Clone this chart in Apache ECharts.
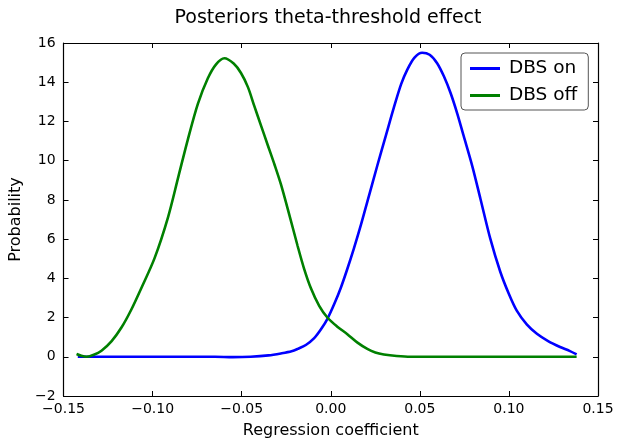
<!DOCTYPE html>
<html>
<head>
<meta charset="utf-8">
<script src="https://cdn.jsdelivr.net/npm/echarts@6/dist/echarts.min.js"></script>
<style>html,body{margin:0;padding:0;background:#fff}#c{width:617px;height:444px}</style>
</head>
<body>
<div id="c"></div>
<script>
const titleText = "Posteriors theta-threshold effect";
const xLabel = "Regression coefficient";
const yLabel = "Probability";
const seriesNames = ["DBS on", "DBS off"];

const dbsOnX = [-0.142, -0.12, -0.10, -0.08, -0.065, -0.055, -0.045, -0.035, -0.028, -0.022, -0.0186, -0.014, -0.0093, -0.0055, -0.0018, 0.002, 0.0056, 0.009, 0.013, 0.017, 0.0205, 0.0261, 0.031, 0.0354, 0.0395, 0.0429, 0.047, 0.0513, 0.0555, 0.0597, 0.0635, 0.0672, 0.071, 0.0746, 0.0795, 0.084, 0.0895, 0.0951, 0.1, 0.1044, 0.11, 0.1157, 0.122, 0.1287, 0.134, 0.138];
const dbsOnY = [0.0, 0.0, 0.0, 0.0, 0.0, -0.02, 0.0, 0.07, 0.17, 0.28, 0.4, 0.6, 0.95, 1.4, 1.95, 2.7, 3.51, 4.4, 5.53, 6.75, 7.9, 9.74, 11.3, 12.7, 13.9, 14.63, 15.25, 15.5, 15.4, 14.97, 14.3, 13.46, 12.4, 11.26, 9.7, 8.06, 6.04, 4.35, 3.2, 2.35, 1.65, 1.17, 0.8, 0.5, 0.3, 0.12];

const dbsOffX = [-0.1427, -0.14, -0.137, -0.133, -0.1287, -0.123, -0.1175, -0.112, -0.1063, -0.0989, -0.0914, -0.0855, -0.0802, -0.0746, -0.069, -0.0645, -0.0597, -0.0545, -0.0504, -0.0465, -0.0429, -0.039, -0.0354, -0.0315, -0.028, -0.0233, -0.0186, -0.015, -0.0112, -0.0065, -0.0018, 0.0035, 0.0093, 0.015, 0.0205, 0.025, 0.0298, 0.037, 0.0448, 0.06, 0.08, 0.11, 0.138];
const dbsOffY = [0.14, 0.05, 0.0, 0.1, 0.31, 0.8, 1.49, 2.4, 3.51, 5.03, 7.1, 9.2, 11.09, 12.9, 14.2, 14.9, 15.22, 14.95, 14.47, 13.75, 12.78, 11.75, 10.8, 9.78, 8.8, 7.25, 5.65, 4.5, 3.51, 2.6, 1.99, 1.55, 1.15, 0.72, 0.4, 0.22, 0.12, 0.04, 0.0, 0.0, 0.0, 0.0, 0.0];

const xTicks = { min: -0.15, max: 0.15, interval: 0.05 };
const yTicks = { min: -2, max: 16, interval: 2 };

function pairs(xs, ys) { return xs.map((x, i) => [x, ys[i]]); }
function fmtX(v) { const s = Math.abs(v).toFixed(2); return (v < -1e-9 ? "\u2212" : "") + s; }
function fmtY(v) { return (v < 0 ? "\u2212" : "") + Math.abs(Math.round(v)); }

const font = "DejaVu Sans";
const axisLine = { show: true, onZero: false, lineStyle: { color: "#000", width: 1.2 } };
const tick = { show: true, inside: true, length: 5, lineStyle: { color: "#000", width: 1 } };

const chart = echarts.init(document.getElementById("c"), null, { renderer: "canvas" });
chart.setOption({
  animation: false,
  backgroundColor: "#fff",
  title: {
    text: titleText, left: 323, top: 4, textAlign: "center",
    textStyle: { fontFamily: font, fontSize: 19, fontWeight: "normal", color: "#000" }
  },
  grid: { left: 62, top: 43, width: 536, height: 356, containLabel: false },
  legend: {
    data: seriesNames, orient: "vertical", left: 461, top: 53,
    icon: "rect", itemWidth: 30, itemHeight: 3, itemGap: 8,
    padding: [6, 11, 5, 9], borderColor: "#555", borderWidth: 1, borderRadius: 4,
    backgroundColor: "#fff",
    textStyle: { fontFamily: font, fontSize: 18.5, color: "#000", padding: [0, 0, 0, 4] }
  },
  xAxis: [
    {
      type: "value", min: xTicks.min, max: xTicks.max, interval: xTicks.interval,
      position: "bottom", name: xLabel, nameLocation: "middle", nameGap: 27,
      nameTextStyle: { fontFamily: font, fontSize: 16, color: "#000" },
      axisLine: axisLine, axisTick: tick, splitLine: { show: false },
      axisLabel: { formatter: fmtX, fontFamily: font, fontSize: 14, color: "#000", margin: 6 }
    },
    {
      type: "value", min: xTicks.min, max: xTicks.max, interval: xTicks.interval,
      position: "top", axisLine: axisLine, axisTick: tick, splitLine: { show: false },
      axisLabel: { show: false }
    }
  ],
  yAxis: [
    {
      type: "value", min: yTicks.min, max: yTicks.max, interval: yTicks.interval,
      position: "left", name: yLabel, nameLocation: "middle", nameGap: 33,
      nameTextStyle: { fontFamily: font, fontSize: 16, color: "#000" },
      axisLine: axisLine, axisTick: tick, splitLine: { show: false },
      axisLabel: { formatter: fmtY, fontFamily: font, fontSize: 14, color: "#000", margin: 8 }
    },
    {
      type: "value", min: yTicks.min, max: yTicks.max, interval: yTicks.interval,
      position: "right", axisLine: axisLine, axisTick: tick, splitLine: { show: false },
      axisLabel: { show: false }
    }
  ],
  series: [
    {
      name: seriesNames[0], type: "line", data: pairs(dbsOnX, dbsOnY),
      smooth: 0.3, showSymbol: false, symbol: "none",
      lineStyle: { color: "#0000ff", width: 2.6 }, itemStyle: { color: "#0000ff" }
    },
    {
      name: seriesNames[1], type: "line", data: pairs(dbsOffX, dbsOffY),
      smooth: 0.3, showSymbol: false, symbol: "none",
      lineStyle: { color: "#008000", width: 2.6 }, itemStyle: { color: "#008000" }
    }
  ]
});
</script>
</body>
</html>
